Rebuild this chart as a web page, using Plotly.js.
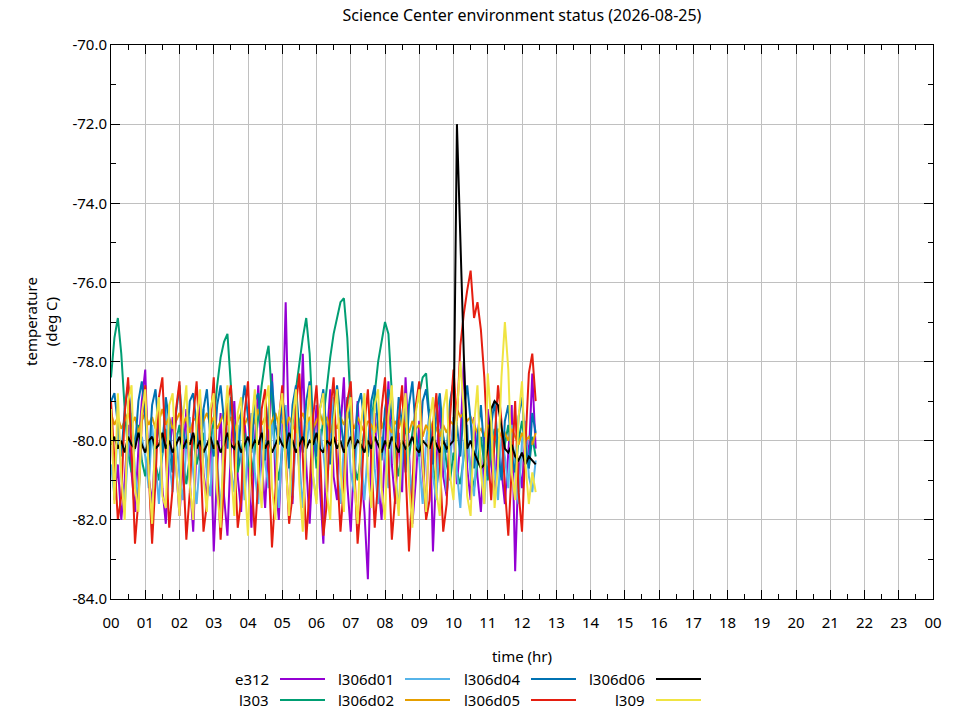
<!DOCTYPE html>
<html>
<head>
<meta charset="utf-8">
<script src="https://cdn.plot.ly/plotly-3.0.1.min.js"></script>
<style>
  html, body { margin: 0; padding: 0; background: #fff; }
  #chart { width: 960px; height: 720px; }
</style>
</head>
<body>
<div id="chart"></div>
<script>
// samples every 0.1 hr from 00:00
const sampleStep = 0.1;

const e312 = [
  -79.2,-81.5,-80.6,-82.0,-81.0,-79.6,-80.8,-81.8,-80.2,-79.0,-78.2,-80.9,-81.6,-80.0,-79.1,-81.2,-82.1,-80.4,-79.4,-80.7,-81.9,-80.5,-79.2,-81.0,-82.3,
  -80.1,-78.9,-80.8,-81.5,-79.6,-82.8,-80.7,-79.3,-81.4,-82.4,-80.2,-79.0,-80.9,-81.8,-79.5,-80.6,-82.2,-80.0,-78.6,-80.5,-81.7,-79.8,-78.3,-81.0,-82.0,
  -79.9,-76.5,-80.2,-81.6,-79.4,-80.8,-77.8,-80.6,-82.1,-80.3,-79.1,-81.2,-82.6,-80.0,-78.7,-80.9,-81.5,-79.7,-78.4,-81.1,-82.3,-80.4,-79.0,-80.7,-81.8,
  -83.5,-80.1,-79.3,-81.0,-82.0,-80.2,-78.5,-80.6,-81.6,-79.8,-81.3,-78.4,-80.1,-82.1,-81.0,-79.5,-80.8,-81.9,-79.2,-82.8,-80.6,-79.0,-80.9,-81.4,-80.3,
  -79.6,-81.1,-80.0,-78.0,-80.7,-81.5,-79.4,-80.9,-81.8,-80.1,-79.2,-80.6,-81.3,-79.9,-80.8,-81.6,-80.3,-79.1,-83.3,-80.5,-81.2,-79.8,-80.4,-78.3,-80.2
];
const l303 = [
  -78.4,-77.4,-76.9,-77.8,-79.2,-80.3,-80.8,-80.1,-79.6,-80.5,-80.9,-80.2,-79.8,-80.6,-81.0,-80.3,-79.7,-80.4,-80.8,-80.0,-79.6,-80.5,-81.1,-80.4,-79.9,
  -80.6,-80.2,-79.8,-80.7,-80.1,-79.5,-78.6,-77.9,-77.5,-77.3,-78.6,-80.0,-80.8,-80.3,-79.8,-80.5,-80.9,-80.2,-79.4,-78.6,-78.0,-77.6,-78.9,-80.4,-81.0,
  -80.2,-79.5,-80.3,-79.6,-78.7,-78.0,-77.4,-76.9,-77.8,-79.6,-80.7,-80.2,-79.4,-78.6,-77.9,-77.3,-76.9,-76.5,-76.4,-77.4,-79.2,-80.6,-81.0,-80.3,-79.7,
  -80.4,-79.6,-78.7,-78.0,-77.5,-77.0,-77.3,-78.8,-80.3,-80.9,-80.2,-79.6,-80.4,-79.8,-79.2,-78.8,-78.4,-78.3,-79.4,-80.6,-81.2,-80.5,-79.9,-80.6,-81.0,
  -80.3,-80.8,-81.1,-80.4,-80.0,-80.7,-81.2,-80.5,-79.9,-80.6,-81.0,-80.2,-79.7,-80.4,-80.9,-80.1,-79.6,-80.3,-80.8,-80.0,-79.5,-80.2,-80.7,-79.9,-80.4
];
const l306d01 = [
  -80.6,-81.4,-79.5,-80.9,-81.7,-80.2,-79.3,-80.8,-81.5,-79.9,-80.4,-81.2,-79.6,-80.7,-81.6,-80.0,-79.1,-80.5,-81.3,-79.8,-80.9,-81.5,-80.1,-79.4,-80.8,
  -81.6,-80.3,-79.2,-80.9,-81.4,-79.7,-80.5,-81.8,-80.2,-79.0,-80.7,-81.3,-79.6,-80.4,-81.5,-80.1,-79.3,-80.8,-81.6,-79.9,-80.6,-81.2,-79.5,-80.3,-81.7,
  -80.0,-79.1,-80.6,-81.4,-79.8,-80.5,-81.7,-80.2,-79.4,-80.9,-81.5,-79.7,-80.3,-81.2,-80.0,-78.9,-80.6,-81.6,-80.1,-79.5,-80.8,-81.3,-79.6,-80.4,-81.5,
  -80.2,-79.2,-80.7,-81.6,-79.9,-80.4,-81.2,-79.5,-80.8,-81.7,-80.3,-79.1,-80.6,-81.4,-79.8,-80.5,-81.6,-80.0,-79.3,-80.9,-81.5,-79.7,-80.2,-81.3,-80.6,
  -79.4,-80.8,-81.7,-80.1,-79.6,-80.9,-81.4,-79.8,-80.5,-81.6,-80.2,-79.3,-80.7,-81.5,-79.9,-80.4,-81.2,-79.6,-80.8,-81.6,-80.0,-79.5,-80.9,-81.3,-80.5
];
const l306d02 = [
  -79.3,-79.6,-79.4,-79.7,-79.5,-79.3,-79.6,-79.4,-79.8,-79.5,-79.3,-79.6,-79.4,-79.7,-79.5,-79.2,-79.6,-79.4,-79.7,-79.5,-79.3,-79.6,-79.4,-79.8,-79.5,
  -79.4,-79.7,-79.5,-79.3,-79.6,-79.4,-79.7,-79.5,-79.3,-79.6,-79.4,-79.8,-79.5,-79.3,-79.6,-79.4,-79.7,-79.5,-79.2,-79.6,-79.4,-79.7,-79.5,-79.3,-79.6,
  -79.5,-79.7,-79.4,-79.6,-79.8,-79.5,-79.3,-79.6,-79.4,-79.7,-79.5,-79.3,-79.6,-79.4,-79.8,-79.5,-79.7,-79.4,-79.6,-79.3,-79.5,-79.7,-79.4,-79.6,-79.8,
  -79.5,-79.6,-79.8,-79.5,-79.7,-79.4,-79.6,-79.8,-79.5,-79.7,-79.4,-79.6,-79.8,-79.5,-79.7,-79.6,-79.9,-79.6,-79.8,-79.5,-79.7,-79.9,-79.6,-79.8,-79.5,
  -79.6,-79.2,-79.4,-79.3,-79.5,-79.4,-79.6,-79.8,-79.7,-79.9,-79.6,-79.8,-80.0,-79.7,-79.9,-79.8,-80.0,-79.7,-79.9,-80.1,-79.8,-80.0,-79.9,-80.1,-79.8
];
const l306d04 = [
  -79.0,-78.8,-79.6,-80.4,-79.2,-78.6,-79.5,-80.2,-79.0,-78.5,-79.4,-80.6,-79.1,-78.7,-79.8,-80.3,-78.9,-79.5,-80.8,-79.3,-78.6,-79.7,-80.2,-79.0,-78.8,
  -79.6,-80.5,-79.2,-78.7,-79.9,-80.4,-79.1,-78.6,-79.5,-80.2,-78.9,-79.7,-80.6,-79.3,-78.6,-79.4,-80.3,-79.0,-78.8,-79.8,-80.5,-79.2,-78.5,-79.6,-80.1,
  -78.9,-79.5,-80.7,-79.1,-78.6,-79.8,-80.3,-79.0,-78.5,-79.6,-80.4,-79.2,-78.7,-79.9,-80.6,-79.3,-78.6,-79.5,-80.2,-78.9,-79.7,-80.5,-79.1,-78.8,-79.6,
  -80.3,-79.0,-78.6,-79.7,-80.5,-79.2,-78.7,-79.4,-80.2,-78.9,-79.6,-80.8,-79.1,-78.5,-79.8,-80.4,-79.0,-78.7,-79.5,-80.6,-79.3,-78.8,-79.9,-80.3,-79.0,
  -78.5,-79.6,-80.4,-79.2,-78.6,-79.5,-80.7,-79.8,-79.1,-80.3,-80.9,-79.6,-79.0,-80.2,-81.0,-79.5,-79.1,-80.4,-80.8,-79.4,-78.9,-80.1,-80.7,-79.3,-79.8
];
const l306d05 = [
  -79.0,-80.5,-82.0,-81.4,-79.3,-78.4,-80.2,-82.6,-81.5,-79.5,-78.6,-80.8,-82.6,-81.0,-78.9,-78.4,-80.3,-82.2,-81.2,-79.2,-78.5,-80.6,-82.5,-81.3,-79.4,
  -78.5,-80.1,-82.3,-81.6,-79.6,-78.4,-80.7,-82.5,-81.1,-79.0,-78.6,-80.4,-82.2,-81.5,-79.3,-78.5,-80.8,-82.4,-81.0,-79.2,-78.7,-80.5,-82.7,-81.3,-79.5,
  -78.6,-80.3,-82.1,-81.4,-79.1,-78.3,-80.6,-82.5,-81.2,-79.4,-78.6,-80.2,-82.4,-81.6,-79.3,-78.4,-80.7,-82.3,-81.1,-79.0,-78.5,-80.4,-82.6,-81.5,-79.6,
  -78.7,-80.5,-82.2,-81.0,-79.2,-78.4,-80.3,-82.5,-81.4,-79.5,-78.6,-80.6,-82.8,-81.2,-79.1,-78.5,-80.2,-82.0,-81.5,-79.6,-78.8,-80.4,-82.3,-81.6,-79.4,
  -78.2,-79.5,-77.6,-76.8,-76.2,-75.7,-76.9,-76.5,-77.2,-78.4,-80.2,-81.5,-80.0,-78.6,-79.5,-81.2,-82.4,-80.6,-79.0,-81.3,-82.3,-80.1,-78.3,-77.8,-79.0
];
const l306d06 = [
  -80.1,-79.9,-80.2,-80.0,-80.3,-79.9,-80.1,-80.2,-79.8,-80.1,-80.3,-80.0,-79.9,-80.2,-80.1,-79.8,-80.2,-80.0,-80.3,-80.1,-79.9,-80.2,-80.0,-80.1,-79.8,
  -80.2,-80.0,-80.3,-80.1,-79.9,-80.2,-80.0,-80.3,-80.1,-79.8,-80.1,-80.2,-80.0,-80.3,-80.1,-79.9,-80.2,-80.0,-80.1,-79.8,-80.2,-80.0,-80.3,-80.1,-79.9,
  -80.1,-80.2,-79.8,-80.0,-80.3,-80.1,-79.9,-80.2,-80.0,-80.1,-79.8,-80.2,-80.3,-80.0,-80.1,-79.9,-80.2,-80.0,-80.3,-80.1,-79.9,-80.2,-80.0,-80.1,-80.3,
  -80.0,-80.2,-79.9,-80.1,-80.3,-80.0,-80.2,-79.9,-80.1,-80.3,-80.0,-80.2,-80.1,-79.9,-80.2,-80.3,-80.0,-80.1,-80.2,-79.9,-80.1,-80.3,-80.0,-80.2,-80.1,
  -80.0,-72.0,-75.0,-77.8,-80.2,-80.0,-80.3,-80.5,-80.7,-80.6,-80.2,-79.2,-79.0,-79.1,-79.6,-80.2,-80.3,-80.1,-80.4,-80.5,-80.3,-80.6,-80.4,-80.5,-80.6
];
const l309 = [
  -79.2,-81.6,-78.8,-80.9,-82.0,-79.0,-78.6,-81.2,-81.8,-79.3,-78.7,-80.8,-82.1,-79.6,-78.9,-81.4,-81.7,-79.1,-78.8,-80.6,-81.9,-79.4,-78.6,-81.1,-82.0,
  -79.5,-78.7,-80.9,-81.8,-79.2,-78.8,-81.3,-82.2,-79.7,-78.6,-80.7,-81.9,-79.3,-78.9,-81.0,-82.4,-79.6,-78.7,-80.8,-81.7,-79.1,-78.6,-81.2,-82.0,-79.4,
  -78.8,-80.6,-81.9,-79.5,-78.7,-81.1,-82.3,-79.8,-78.6,-80.9,-81.6,-79.2,-78.8,-81.3,-82.0,-79.5,-78.7,-80.7,-81.8,-79.3,-78.9,-81.0,-82.1,-79.6,-78.8,
  -80.8,-81.7,-79.1,-78.7,-81.2,-82.0,-79.4,-78.6,-80.9,-81.9,-79.6,-78.8,-81.1,-82.2,-79.3,-78.7,-80.6,-81.8,-79.5,-78.9,-81.3,-81.9,-79.2,-78.7,-80.9,
  -81.5,-79.3,-78.0,-79.2,-81.4,-81.9,-79.6,-78.6,-80.8,-81.6,-78.3,-79.5,-81.7,-80.6,-78.4,-77.0,-78.2,-80.8,-81.5,-79.4,-78.5,-80.6,-81.6,-80.8,-81.3
];

const seriesNames = ["e312", "l303", "l306d01", "l306d02", "l306d04", "l306d05", "l306d06", "l309"];
const seriesValues = [e312, l303, l306d01, l306d02, l306d04, l306d05, l306d06, l309];
const seriesColors = ["#9400d3", "#009e73", "#56b4e9", "#e69f00", "#0072b2", "#e51e10", "#000000", "#f0e442"];

const hourTicks = [0,1,2,3,4,5,6,7,8,9,10,11,12,13,14,15,16,17,18,19,20,21,22,23,24];
const hourLabels = ["00","01","02","03","04","05","06","07","08","09","10","11","12",
                    "13","14","15","16","17","18","19","20","21","22","23","00"];
const tempTicks = [-84, -82, -80, -78, -76, -74, -72, -70];
const tempLabels = ["-84.0", "-82.0", "-80.0", "-78.0", "-76.0", "-74.0", "-72.0", "-70.0"];

const font = "Noto Sans, DejaVu Sans, sans-serif";

const traces = seriesNames.map((name, i) => ({
    x: seriesValues[i].map((_, k) => k * sampleStep),
    y: seriesValues[i],
    name,
    type: "scatter",
    mode: "lines",
    line: { color: seriesColors[i], width: 2 },
    showlegend: false,
}));

// gnuplot-style key below the plot: label on the left, line sample on the right
const plotLeft = 111, plotRight = 933, plotTop = 45, plotBottom = 599;
const px = (x) => (x - plotLeft) / (plotRight - plotLeft);
const py = (y) => (plotBottom - y) / (plotBottom - plotTop);
const keyCols = [271, 396, 522, 647];
const keyRows = [679, 700];

const annotations = [];
const shapes = [];
seriesNames.forEach((name, i) => {
    const col = Math.floor(i / 2), row = i % 2;
    annotations.push({
        text: name, xref: "paper", yref: "paper",
        x: px(keyCols[col]), y: py(keyRows[row]),
        xanchor: "right", yanchor: "middle", showarrow: false,
        font: { family: font, size: 15, color: "#000" },
    });
    shapes.push({
        type: "line", xref: "paper", yref: "paper",
        x0: px(keyCols[col] + 9), x1: px(keyCols[col] + 54),
        y0: py(keyRows[row]), y1: py(keyRows[row]),
        line: { color: seriesColors[i], width: 2 },
    });
});

annotations.push({
    text: "temperature<br>(deg C)", xref: "paper", yref: "paper",
    x: 0, y: 0.5, xshift: -70, textangle: -90,
    xanchor: "center", yanchor: "middle", showarrow: false,
    font: { family: font, size: 15, color: "#000" },
});

const layout = {
    width: 960,
    height: 720,
    margin: { l: plotLeft, r: 960 - plotRight, t: plotTop, b: 720 - plotBottom },
    paper_bgcolor: "#fff",
    plot_bgcolor: "#fff",
    font: { family: font, size: 15, color: "#000" },
    title: {
        text: "Science Center environment status (2026-08-25)",
        x: 0.5 * (plotLeft + plotRight) / 960, xanchor: "center",
        y: 1 - 15 / 720, yanchor: "middle",
        font: { family: font, size: 16, color: "#000" },
    },
    xaxis: {
        range: [0, 24],
        tickvals: hourTicks,
        ticktext: hourLabels,
        ticks: "inside", ticklen: 9, tickcolor: "#000",
        ticklabelstandoff: 10,
        minor: { dtick: 0.5, ticks: "inside", ticklen: 5, tickcolor: "#000", showgrid: false },
        showline: true, linecolor: "#000", linewidth: 1, mirror: "ticks",
        showgrid: true, gridcolor: "#c0c0c0", gridwidth: 1,
        zeroline: false,
        title: { text: "time (hr)", standoff: 20, font: { family: font, size: 15 } },
        tickfont: { family: font, size: 15 },
        fixedrange: true,
    },
    yaxis: {
        range: [-84, -70],
        tickvals: tempTicks,
        ticktext: tempLabels,
        ticks: "inside", ticklen: 9, tickcolor: "#000",
        minor: { dtick: 1, ticks: "inside", ticklen: 5, tickcolor: "#000", showgrid: false },
        showline: true, linecolor: "#000", linewidth: 1, mirror: "ticks",
        showgrid: true, gridcolor: "#c0c0c0", gridwidth: 1,
        zeroline: false,
        tickfont: { family: font, size: 15 },
        fixedrange: true,
    },
    annotations,
    shapes,
    showlegend: false,
};

Plotly.newPlot("chart", traces, layout, { displayModeBar: false, staticPlot: true });
</script>
</body>
</html>
